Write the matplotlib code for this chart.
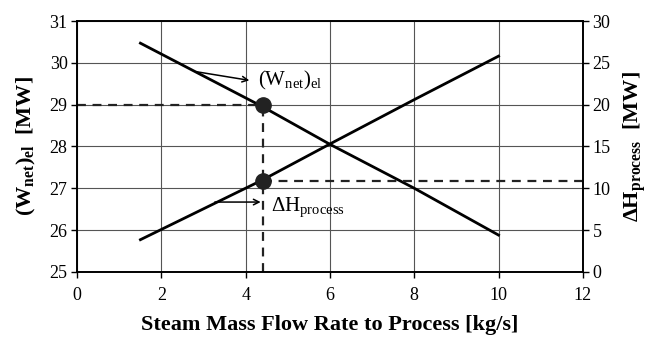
import matplotlib
matplotlib.use('Agg')
from matplotlib import pyplot as plt

plt.rcParams['font.family'] = 'Liberation Serif'
plt.rcParams['mathtext.fontset'] = 'custom'
plt.rcParams['mathtext.rm'] = 'Liberation Serif'
plt.rcParams['mathtext.it'] = 'Liberation Serif:italic'
plt.rcParams['mathtext.bf'] = 'Liberation Serif:bold'

# data
flow = [1.5, 4.4, 6, 8, 10]
w_net = [30.47, 28.95, 28.05, 27.0, 25.88]
dh_process = [3.85, 11.0, 15.3, 20.6, 25.8]
sel_flow = 4.4
sel_w = 29.0
sel_dh = 10.85

fig = plt.figure(figsize=(6.49, 3.39), dpi=100)
ax = fig.add_axes([0.119, 0.198, 0.779, 0.740])
ax2 = ax.twinx()

ax.plot(flow, w_net, color='black', lw=2, zorder=3)
ax2.plot(flow, dh_process, color='black', lw=2, zorder=3)

# dashed guide lines
dash = dict(color='#222222', ls=(0, (4, 3)), lw=1.6)
ax.plot([0, sel_flow], [sel_w, sel_w], **dash)
ax.plot([sel_flow, sel_flow], [25, sel_w], **dash)
ax2.plot([sel_flow, 12], [sel_dh, sel_dh], **dash)

ax.plot([sel_flow], [sel_w], 'o', color='#222222', ms=11, zorder=5)
ax2.plot([sel_flow], [sel_dh], 'o', color='#222222', ms=11, zorder=5)

ax.annotate('', xy=(4.15, 29.57), xytext=(2.75, 29.8),
            arrowprops=dict(arrowstyle='->', color='black', lw=1.1))
ax.text(4.3, 29.58, r'(W$_{\mathrm{net}}$)$_{\mathrm{el}}$', fontsize=15, va='center')
ax.annotate('', xy=(4.42, 26.67), xytext=(3.2, 26.67),
            arrowprops=dict(arrowstyle='->', color='black', lw=1.1))
ax.text(4.6, 26.55, r'$\Delta$H$_{\mathrm{process}}$', fontsize=15, va='center')

ax.set_xlim(0, 12)
ax.set_ylim(25, 31)
ax2.set_ylim(0, 30)
ax.set_xticks(range(0, 13, 2))
ax.set_yticks(range(25, 32))
ax2.set_yticks(range(0, 31, 5))
ax.grid(True, color='#555555', lw=0.8)
ax.set_axisbelow(True)

for a in (ax, ax2):
    a.tick_params(labelsize=13, direction='out', length=4, width=1, pad=3)
    for s in a.spines.values():
        s.set_linewidth(1.2)
ax.tick_params(axis='x', pad=7)

ax.set_xlabel('Steam Mass Flow Rate to Process [kg/s]', fontsize=16, fontweight='bold', labelpad=8)
ax.set_ylabel(r'$\mathbf{(W_{net})_{el}}$  [MW]', fontsize=16, fontweight='bold', labelpad=8)
ax2.set_ylabel(r'$\mathbf{\Delta H_{process}}$  [MW]', fontsize=16, fontweight='bold', labelpad=8)

plt.savefig('out.png', dpi=100)
